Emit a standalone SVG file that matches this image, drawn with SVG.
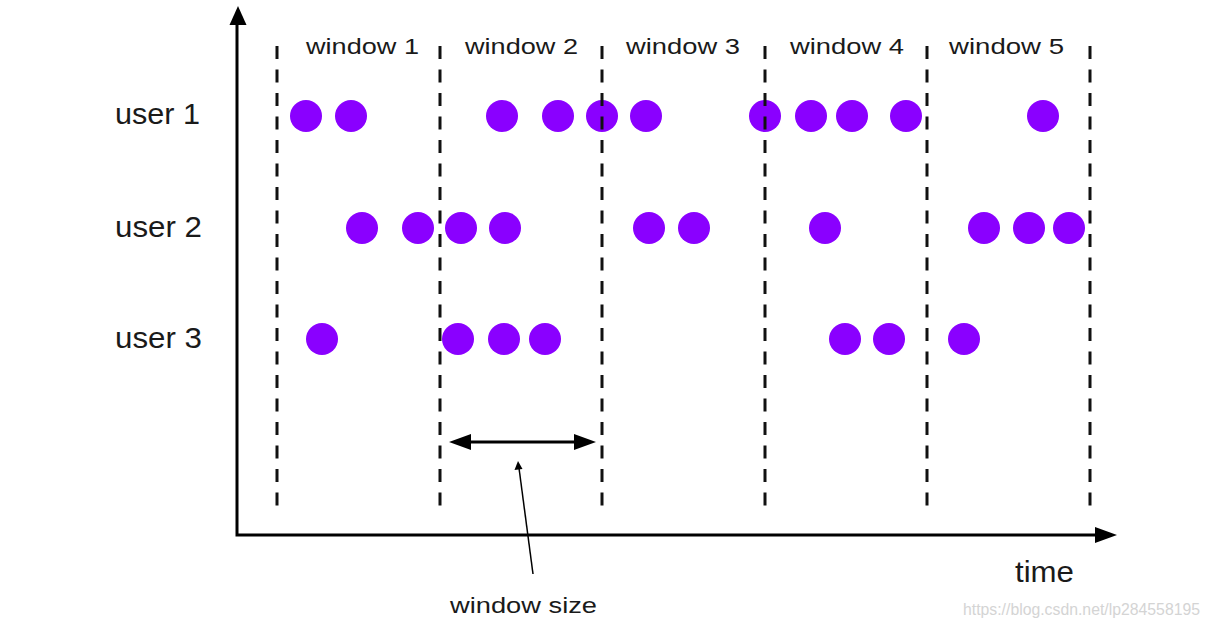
<svg xmlns="http://www.w3.org/2000/svg" width="1210" height="628" viewBox="0 0 1210 628">
<style>
.lbl{font-family:"Liberation Sans",Arial,sans-serif;fill:#1a1a1a}
.dot{fill:#8a00ff}
.dash{stroke:#111;stroke-width:3;stroke-dasharray:13 10.5;fill:none}
.axis{stroke:#000;stroke-width:3;fill:none}
</style>
<rect width="1210" height="628" fill="#fff"/>
<g id="dots">
<circle class="dot" cx="306" cy="116" r="16"/>
<circle class="dot" cx="351" cy="116" r="16"/>
<circle class="dot" cx="502" cy="116" r="16"/>
<circle class="dot" cx="558" cy="116" r="16"/>
<circle class="dot" cx="602" cy="116" r="16"/>
<circle class="dot" cx="646" cy="116" r="16"/>
<circle class="dot" cx="765" cy="116" r="16"/>
<circle class="dot" cx="811" cy="116" r="16"/>
<circle class="dot" cx="852" cy="116" r="16"/>
<circle class="dot" cx="906" cy="116" r="16"/>
<circle class="dot" cx="1043" cy="116" r="16"/>
<circle class="dot" cx="362" cy="228" r="16"/>
<circle class="dot" cx="418" cy="228" r="16"/>
<circle class="dot" cx="461" cy="228" r="16"/>
<circle class="dot" cx="505" cy="228" r="16"/>
<circle class="dot" cx="649" cy="228" r="16"/>
<circle class="dot" cx="694" cy="228" r="16"/>
<circle class="dot" cx="825" cy="228" r="16"/>
<circle class="dot" cx="984" cy="228" r="16"/>
<circle class="dot" cx="1029" cy="228" r="16"/>
<circle class="dot" cx="1069" cy="228" r="16"/>
<circle class="dot" cx="322" cy="339" r="16"/>
<circle class="dot" cx="458" cy="339" r="16"/>
<circle class="dot" cx="504" cy="339" r="16"/>
<circle class="dot" cx="545" cy="339" r="16"/>
<circle class="dot" cx="845" cy="339" r="16"/>
<circle class="dot" cx="889" cy="339" r="16"/>
<circle class="dot" cx="964" cy="339" r="16"/>
</g>
<g id="window-borders">
<line class="dash" x1="277" y1="46" x2="277" y2="507"/>
<line class="dash" x1="440" y1="46" x2="440" y2="507"/>
<line class="dash" x1="602" y1="46" x2="602" y2="507"/>
<line class="dash" x1="765" y1="46" x2="765" y2="507"/>
<line class="dash" x1="927" y1="46" x2="927" y2="507"/>
<line class="dash" x1="1090" y1="46" x2="1090" y2="507"/>
</g>
<g id="axes">
<polyline class="axis" points="237,22 237,535 1097,535"/>
<polygon points="238,6 229.5,25 246.5,25" fill="#000"/>
<polygon points="1117,535 1095,527 1095,543" fill="#000"/>
</g>
<g id="connectors">
<line x1="468" y1="442" x2="576" y2="442" stroke="#000" stroke-width="3"/>
<polygon points="449,442 471,434 471,450" fill="#000"/>
<polygon points="596,442 574,434 574,450" fill="#000"/>
<line x1="533" y1="574" x2="519" y2="468" stroke="#000" stroke-width="1.5"/>
<polygon points="518,461 514.5,470 522.5,469" fill="#000"/>
</g>
<g id="labels">
<text class="lbl" x="115" y="124" font-size="30" textLength="85" lengthAdjust="spacingAndGlyphs">user 1</text>
<text class="lbl" x="115" y="237" font-size="30" textLength="87" lengthAdjust="spacingAndGlyphs">user 2</text>
<text class="lbl" x="115" y="348" font-size="30" textLength="87" lengthAdjust="spacingAndGlyphs">user 3</text>
<text class="lbl" x="306" y="54" font-size="21.5" textLength="113" lengthAdjust="spacingAndGlyphs">window 1</text>
<text class="lbl" x="465" y="54" font-size="21.5" textLength="113" lengthAdjust="spacingAndGlyphs">window 2</text>
<text class="lbl" x="626" y="54" font-size="21.5" textLength="114" lengthAdjust="spacingAndGlyphs">window 3</text>
<text class="lbl" x="790" y="54" font-size="21.5" textLength="114" lengthAdjust="spacingAndGlyphs">window 4</text>
<text class="lbl" x="949" y="54" font-size="21.5" textLength="115" lengthAdjust="spacingAndGlyphs">window 5</text>
<text class="lbl" x="1015" y="582" font-size="29" textLength="59" lengthAdjust="spacingAndGlyphs">time</text>
<text class="lbl" x="450" y="613" font-size="21.5" textLength="147" lengthAdjust="spacingAndGlyphs">window size</text>
<text x="963" y="615" font-family="'Liberation Sans',Arial,sans-serif" font-size="16" fill="#d4d4d4" textLength="237" lengthAdjust="spacingAndGlyphs">https://blog.csdn.net/lp284558195</text>
</g>
</svg>
